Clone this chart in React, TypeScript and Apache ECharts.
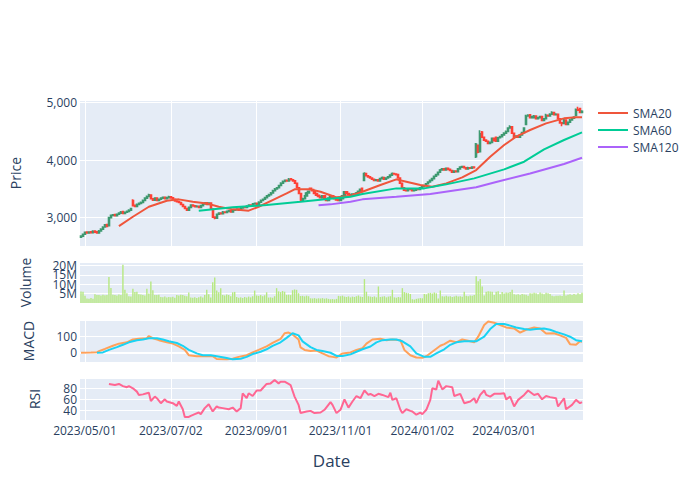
import React, { useEffect, useRef } from 'react';
import * as echarts from 'echarts';

const FONT = '"Open Sans", verdana, arial, sans-serif';
const TEXT = '#2a3f5f';
const PLOT_BG = '#E5ECF6';

// Trading calendar (NYSE days)
const firstDay = '2023-04-27';
const lastDay = '2024-04-26';
const holidays = ['2023-05-29', '2023-06-19', '2023-07-04', '2023-09-04', '2023-11-23', '2023-12-25', '2024-01-01', '2024-01-15', '2024-02-19', '2024-03-29'];
const tickLabels = ['2023/05/01', '2023/07/02', '2023/09/01', '2023/11/01', '2024/01/02', '2024/03/01'];

// Daily candles: [open, high, low, close]
const ohlc: number[][] = [
  [2660, 2695, 2645, 2680], [2680, 2720, 2670, 2710], [2715, 2760, 2705, 2745], [2750, 2760, 2720, 2735], [2735, 2765, 2725, 2750],
  [2755, 2765, 2730, 2740], [2740, 2780, 2730, 2765], [2770, 2775, 2740, 2750], [2755, 2760, 2720, 2735], [2735, 2785, 2725, 2770],
  [2770, 2815, 2760, 2800], [2800, 2850, 2790, 2835], [2840, 2890, 2830, 2875], [2880, 2885, 2835, 2850], [2860, 3015, 2850, 3000],
  [3000, 3055, 2990, 3040], [3040, 3065, 3030, 3050], [3055, 3060, 3020, 3035], [3035, 3075, 3025, 3060], [3060, 3095, 3050, 3080],
  [3080, 3115, 3070, 3100], [3105, 3110, 3060, 3075], [3075, 3110, 3065, 3095], [3095, 3125, 3085, 3110], [3110, 3145, 3100, 3130],
  [3130, 3175, 3120, 3160], [3300, 3320, 3195, 3210], [3215, 3225, 3180, 3195], [3195, 3245, 3185, 3230], [3230, 3265, 3220, 3250],
  [3250, 3280, 3240, 3265], [3265, 3315, 3255, 3300], [3300, 3355, 3290, 3340], [3340, 3385, 3330, 3370], [3370, 3415, 3360, 3400],
  [3395, 3400, 3320, 3330], [3330, 3340, 3290, 3305], [3305, 3355, 3295, 3340], [3340, 3345, 3290, 3300], [3300, 3335, 3290, 3320],
  [3320, 3355, 3310, 3340], [3340, 3370, 3330, 3355], [3355, 3360, 3320, 3330], [3330, 3365, 3320, 3350], [3350, 3380, 3340, 3365],
  [3365, 3375, 3335, 3345], [3345, 3350, 3310, 3320], [3320, 3330, 3280, 3290], [3290, 3300, 3265, 3280], [3280, 3290, 3255, 3265],
  [3265, 3270, 3220, 3230], [3230, 3240, 3185, 3195], [3195, 3205, 3150, 3160], [3160, 3170, 3120, 3130], [3130, 3195, 3120, 3180],
  [3180, 3235, 3170, 3220], [3220, 3230, 3195, 3205], [3205, 3215, 3180, 3190], [3190, 3215, 3180, 3200], [3200, 3210, 3170, 3180],
  [3180, 3225, 3170, 3210], [3210, 3255, 3200, 3240], [3240, 3275, 3230, 3260], [3260, 3270, 3220, 3230], [3230, 3270, 3220, 3255],
  [3255, 3260, 3140, 3150], [3150, 3160, 3000, 3010], [3010, 3020, 2975, 2990], [2990, 3075, 2980, 3060], [3060, 3095, 3050, 3080],
  [3080, 3090, 3060, 3070], [3070, 3115, 3060, 3100], [3100, 3110, 3080, 3090], [3090, 3125, 3080, 3110], [3110, 3135, 3100, 3120],
  [3120, 3130, 3090, 3100], [3100, 3145, 3090, 3130], [3130, 3155, 3120, 3140], [3140, 3165, 3130, 3150], [3150, 3160, 3120, 3130],
  [3130, 3185, 3120, 3170], [3170, 3205, 3160, 3190], [3190, 3200, 3170, 3180], [3180, 3215, 3170, 3200], [3200, 3235, 3190, 3220],
  [3220, 3230, 3200, 3210], [3210, 3255, 3200, 3240], [3240, 3265, 3230, 3250], [3250, 3260, 3220, 3230], [3230, 3285, 3220, 3270],
  [3270, 3315, 3260, 3300], [3300, 3335, 3290, 3320], [3320, 3365, 3310, 3350], [3350, 3395, 3340, 3380], [3380, 3415, 3370, 3400],
  [3400, 3445, 3390, 3430], [3430, 3485, 3420, 3470], [3470, 3515, 3460, 3500], [3500, 3535, 3490, 3520], [3520, 3575, 3510, 3560],
  [3560, 3615, 3550, 3600], [3600, 3645, 3590, 3630], [3630, 3665, 3620, 3650], [3650, 3660, 3625, 3640], [3640, 3690, 3630, 3670],
  [3675, 3685, 3650, 3660], [3660, 3670, 3630, 3640], [3640, 3650, 3590, 3600], [3600, 3610, 3510, 3520], [3520, 3530, 3410, 3420],
  [3420, 3430, 3285, 3300], [3300, 3345, 3290, 3330], [3330, 3395, 3320, 3380], [3380, 3445, 3370, 3430], [3430, 3475, 3420, 3460],
  [3510, 3520, 3480, 3490], [3490, 3500, 3460, 3470], [3470, 3480, 3410, 3420], [3420, 3430, 3380, 3390], [3390, 3400, 3360, 3370],
  [3370, 3380, 3340, 3350], [3350, 3395, 3340, 3380], [3380, 3390, 3320, 3330], [3330, 3340, 3290, 3300], [3300, 3355, 3290, 3340],
  [3340, 3385, 3330, 3370], [3380, 3390, 3345, 3355], [3355, 3365, 3320, 3330], [3330, 3340, 3300, 3310], [3310, 3320, 3290, 3300],
  [3300, 3345, 3290, 3330], [3330, 3395, 3320, 3380], [3380, 3465, 3370, 3450], [3450, 3460, 3410, 3420], [3420, 3430, 3390, 3400],
  [3400, 3410, 3380, 3390], [3390, 3425, 3380, 3410], [3410, 3420, 3390, 3400], [3400, 3445, 3390, 3430], [3430, 3475, 3420, 3460],
  [3460, 3510, 3450, 3495], [3510, 3515, 3460, 3470], [3650, 3790, 3640, 3770], [3770, 3780, 3720, 3730], [3730, 3740, 3700, 3710],
  [3710, 3720, 3680, 3690], [3690, 3700, 3660, 3670], [3670, 3680, 3640, 3650], [3650, 3675, 3640, 3660], [3660, 3670, 3630, 3640],
  [3640, 3695, 3630, 3680], [3680, 3715, 3670, 3700], [3700, 3710, 3660, 3670], [3670, 3705, 3660, 3690], [3690, 3725, 3680, 3710],
  [3710, 3755, 3700, 3740], [3740, 3785, 3730, 3770], [3770, 3780, 3750, 3760], [3760, 3770, 3740, 3750], [3750, 3760, 3680, 3690],
  [3690, 3700, 3590, 3600], [3600, 3610, 3510, 3520], [3520, 3530, 3470, 3480], [3480, 3490, 3460, 3470], [3470, 3515, 3460, 3500],
  [3500, 3510, 3480, 3490], [3490, 3500, 3460, 3470], [3470, 3495, 3460, 3480], [3480, 3515, 3470, 3500], [3500, 3510, 3480, 3490],
  [3490, 3535, 3480, 3520], [3520, 3555, 3510, 3540], [3540, 3575, 3530, 3560], [3560, 3605, 3550, 3590], [3590, 3635, 3580, 3620],
  [3620, 3665, 3610, 3650], [3650, 3695, 3640, 3680], [3680, 3735, 3670, 3720], [3720, 3765, 3710, 3750], [3750, 3805, 3740, 3790],
  [3790, 3845, 3780, 3830], [3830, 3865, 3820, 3850], [3850, 3860, 3820, 3830], [3830, 3875, 3820, 3860], [3860, 3870, 3830, 3840],
  [3840, 3850, 3810, 3820], [3820, 3830, 3780, 3790], [3790, 3825, 3780, 3810], [3810, 3820, 3790, 3800], [3800, 3865, 3790, 3850],
  [3850, 3895, 3840, 3880], [3880, 3905, 3870, 3890], [3890, 3900, 3860, 3870], [3870, 3880, 3840, 3850], [3850, 3885, 3840, 3870],
  [3870, 3880, 3850, 3860], [3860, 3895, 3850, 3880], [3880, 3890, 3860, 3870], [4060, 4300, 4040, 4280], [4260, 4270, 4120, 4140],
  [4150, 4520, 4140, 4460], [4490, 4510, 4390, 4400], [4400, 4410, 4340, 4350], [4350, 4360, 4320, 4330], [4330, 4340, 4280, 4290],
  [4290, 4325, 4280, 4310], [4310, 4395, 4300, 4380], [4380, 4390, 4330, 4340], [4400, 4410, 4320, 4330], [4330, 4405, 4320, 4390],
  [4390, 4425, 4380, 4410], [4410, 4455, 4400, 4440], [4440, 4485, 4430, 4470], [4470, 4515, 4460, 4500], [4500, 4575, 4490, 4560],
  [4560, 4610, 4550, 4580], [4580, 4590, 4460, 4470], [4470, 4480, 4390, 4400], [4400, 4435, 4390, 4420], [4420, 4430, 4390, 4400],
  [4400, 4455, 4390, 4440], [4440, 4495, 4430, 4480], [4480, 4575, 4470, 4560], [4620, 4790, 4610, 4770], [4770, 4800, 4760, 4780],
  [4790, 4800, 4730, 4740], [4740, 4775, 4730, 4760], [4740, 4785, 4730, 4770], [4770, 4780, 4710, 4720], [4720, 4755, 4710, 4740],
  [4740, 4775, 4730, 4760], [4760, 4770, 4680, 4690], [4690, 4735, 4680, 4720], [4720, 4810, 4710, 4780], [4780, 4790, 4760, 4770],
  [4770, 4815, 4760, 4800], [4800, 4850, 4790, 4830], [4830, 4840, 4780, 4790], [4790, 4815, 4780, 4800], [4800, 4810, 4710, 4720],
  [4720, 4730, 4640, 4650], [4650, 4660, 4590, 4640], [4640, 4715, 4630, 4700], [4700, 4710, 4610, 4620], [4620, 4675, 4610, 4660],
  [4660, 4715, 4650, 4700], [4700, 4745, 4690, 4730], [4730, 4765, 4720, 4750], [4780, 4900, 4770, 4880], [4880, 4930, 4860, 4870],
  [4900, 4910, 4820, 4830], [4830, 4870, 4820, 4850],
];

// Daily volume, millions
const volumeM = [
  6.1, 6.0, 3.8, 2.4, 2.2, 2.6, 2.3, 4.7, 4.2, 4.3,
  4.0, 4.4, 4.1, 4.2, 13.8, 8.0, 4.4, 4.2, 4.0, 4.5,
  4.3, 20.4, 7.0, 5.2, 3.6, 3.4, 7.6, 5.9, 6.0, 4.7,
  4.5, 4.3, 4.0, 7.6, 5.0, 11.4, 6.8, 4.3, 4.2, 4.4,
  3.2, 3.0, 3.4, 2.9, 3.2, 3.0, 3.3, 2.8, 4.3, 4.0,
  4.4, 4.2, 3.8, 3.6, 5.6, 2.9, 2.8, 3.1, 2.7, 3.0,
  3.4, 2.9, 4.3, 7.0, 4.7, 2.9, 11.0, 13.5, 6.6, 5.7,
  7.9, 4.3, 4.0, 4.5, 4.2, 3.6, 5.7, 5.9, 3.2, 2.8,
  3.0, 2.7, 3.2, 2.9, 3.4, 3.0, 3.6, 6.6, 4.0, 3.8,
  4.2, 3.6, 4.1, 5.7, 2.9, 3.0, 2.8, 3.6, 7.9, 6.2,
  5.8, 6.4, 6.0, 4.3, 4.4, 4.2, 6.8, 7.2, 7.0, 5.2,
  3.7, 3.8, 3.5, 3.9, 3.6, 2.5, 2.4, 2.6, 2.3, 2.5,
  2.4, 2.6, 2.3, 2.5, 2.2, 2.0, 2.1, 1.9, 2.2, 3.8,
  3.6, 3.9, 3.4, 3.2, 3.5, 3.0, 3.4, 3.2, 3.6, 4.0,
  3.4, 3.2, 12.7, 6.0, 3.6, 3.4, 3.2, 3.5, 3.0, 8.8,
  3.2, 3.4, 3.6, 3.0, 3.4, 3.6, 7.0, 3.0, 2.8, 3.2,
  3.0, 7.9, 5.8, 5.4, 5.2, 4.8, 2.0, 1.8, 2.2, 2.4,
  2.6, 2.5, 4.8, 4.6, 5.2, 5.4, 5.0, 5.6, 5.2, 2.4,
  6.6, 3.6, 3.4, 3.8, 3.4, 3.6, 3.2, 3.5, 3.8, 3.4,
  3.6, 3.3, 6.0, 3.8, 3.6, 4.0, 3.8, 4.2, 14.2, 11.5,
  12.7, 8.8, 4.0, 6.0, 6.2, 6.1, 6.0, 4.2, 6.0, 6.2,
  4.6, 5.8, 5.0, 5.6, 5.4, 5.8, 7.0, 4.6, 4.4, 4.6,
  4.2, 4.8, 4.5, 4.4, 3.9, 5.2, 5.0, 5.4, 5.2, 4.6,
  5.6, 5.0, 4.6, 5.4, 5.2, 4.8, 3.8, 3.6, 3.9, 3.8,
  4.0, 3.7, 6.6, 4.0, 4.4, 4.6, 4.2, 4.8, 4.4, 5.2,
  4.6, 5.4,
];

// Indicator readings: [trading-day number, value]
const sma20 = [[19, 2855], [26, 3017], [34, 3191], [43, 3296], [49, 3319], [56, 3278], [63, 3249], [69, 3191], [76, 3145], [84, 3122], [89, 3191], [96, 3307], [103, 3423], [107, 3493], [115, 3493], [120, 3452], [126, 3377], [128, 3354], [135, 3377], [141, 3452], [150, 3568], [158, 3667], [163, 3626], [170, 3568], [176, 3539], [183, 3597], [191, 3701], [198, 3829], [205, 4061], [212, 4264], [218, 4409], [225, 4525], [233, 4641], [242, 4728], [248, 4745], [251, 4745]];
const sma60 = [[59, 3122], [76, 3180], [93, 3220], [110, 3278], [126, 3336], [135, 3365], [141, 3412], [158, 3510], [172, 3510], [183, 3580], [197, 3684], [212, 3841], [222, 3974], [232, 4188], [242, 4351], [251, 4484]];
const sma120 = [[119, 3215], [125, 3232], [135, 3278], [141, 3319], [158, 3365], [175, 3412], [198, 3530], [208, 3620], [225, 3770], [242, 3935], [251, 4043]];
const macd = [[0, 0], [5, 1], [8, 3], [9, 10], [12, 23], [16, 42], [19, 55], [23, 63], [26, 80], [29, 84], [33, 88], [34, 101], [36, 88], [39, 76], [43, 63], [46, 55], [49, 38], [52, 17], [54, -15], [58, -21], [63, -19], [66, -21], [68, -38], [73, -40], [76, -36], [79, -25], [83, -15], [86, 2], [89, 17], [93, 38], [96, 59], [100, 84], [102, 118], [104, 122], [106, 111], [109, 80], [110, 32], [112, 17], [115, 10], [118, 13], [121, -4], [124, -21], [126, -25], [128, -29], [131, -4], [135, 2], [138, 17], [141, 27], [143, 55], [146, 80], [150, 84], [153, 76], [156, 80], [160, 76], [162, 17], [165, -15], [168, -29], [171, -31], [173, -21], [176, 6], [180, 42], [182, 52], [185, 73], [188, 63], [191, 80], [195, 69], [197, 63], [199, 97], [202, 168], [204, 189], [207, 181], [210, 168], [213, 153], [217, 147], [220, 122], [223, 139], [227, 153], [230, 147], [233, 116], [237, 118], [240, 105], [243, 90], [245, 52], [248, 48], [250, 69], [251, 67]];
const signal = [[8, 0], [11, 2], [14, 17], [18, 34], [21, 48], [24, 63], [28, 76], [31, 80], [34, 88], [38, 88], [41, 80], [44, 69], [48, 59], [51, 42], [54, 17], [58, -4], [61, -15], [65, -15], [68, -21], [73, -32], [76, -40], [80, -36], [83, -25], [86, -8], [90, 6], [93, 21], [96, 42], [100, 63], [103, 90], [106, 118], [109, 105], [111, 69], [115, 34], [118, 17], [121, 10], [125, 0], [128, -19], [131, -20], [135, -10], [138, 6], [141, 21], [145, 38], [148, 63], [151, 76], [155, 80], [158, 80], [161, 69], [165, 38], [168, -4], [172, -25], [175, -25], [178, -4], [182, 21], [185, 48], [188, 63], [192, 69], [195, 69], [198, 69], [202, 97], [205, 143], [208, 174], [212, 174], [215, 164], [218, 153], [222, 143], [225, 139], [228, 143], [232, 147], [235, 139], [238, 126], [242, 111], [245, 97], [248, 76], [251, 69]];
const rsi = [[14, 88], [17, 86], [19, 88], [21, 84], [23, 82], [24, 84], [26, 80], [28, 74], [29, 68], [31, 69], [33, 71], [34, 72], [35, 57], [37, 65], [38, 62], [40, 53], [42, 60], [43, 56], [46, 53], [48, 48], [49, 56], [51, 42], [52, 28], [54, 28], [55, 30], [57, 33], [59, 36], [60, 33], [62, 44], [64, 51], [66, 38], [68, 47], [69, 45], [71, 44], [74, 42], [76, 45], [78, 38], [80, 44], [81, 71], [83, 62], [84, 71], [86, 66], [88, 76], [90, 76], [93, 88], [95, 89], [97, 95], [99, 89], [100, 92], [102, 92], [104, 88], [105, 86], [107, 65], [109, 50], [110, 35], [113, 38], [115, 39], [117, 35], [120, 36], [122, 41], [125, 55], [126, 50], [128, 35], [130, 41], [132, 60], [134, 45], [136, 56], [138, 66], [140, 62], [142, 76], [144, 68], [145, 70], [147, 66], [149, 70], [151, 68], [154, 64], [155, 72], [156, 59], [158, 62], [160, 41], [161, 35], [163, 42], [165, 39], [166, 38], [168, 32], [170, 36], [171, 33], [173, 41], [175, 59], [176, 80], [178, 78], [179, 94], [181, 78], [183, 84], [186, 82], [187, 66], [190, 70], [192, 53], [195, 56], [197, 62], [198, 53], [200, 68], [202, 76], [203, 68], [205, 65], [207, 70], [210, 70], [212, 71], [213, 60], [215, 65], [217, 47], [219, 59], [222, 68], [224, 76], [227, 68], [229, 70], [231, 60], [233, 66], [235, 64], [238, 62], [239, 47], [242, 62], [243, 42], [246, 50], [248, 59], [250, 53], [251, 55]];

function buildDates(): string[] {
  const out: string[] = [];
  const d = new Date(firstDay + 'T00:00:00Z');
  const end = new Date(lastDay + 'T00:00:00Z');
  while (d.getTime() <= end.getTime()) {
    const s = d.toISOString().slice(0, 10);
    const wd = d.getUTCDay();
    if (wd !== 0 && wd !== 6 && !holidays.includes(s)) out.push(s);
    d.setUTCDate(d.getUTCDate() + 1);
  }
  return out;
}

function buildOption() {
  const dates = buildDates();
  const tickMap = new Map<number, string>();
  tickLabels.forEach((l) => {
    const iso = l.replace(/\//g, '-');
    const idx = dates.findIndex((x) => x >= iso);
    if (idx >= 0) tickMap.set(idx, l);
  });

  const labelStyle = { color: TEXT, fontSize: 12, fontFamily: FONT };
  const nameStyle = { color: TEXT, fontSize: 14, fontFamily: FONT };
  const gridDefs = [
    { top: 100, height: 146 },
    { top: 262, height: 41 },
    { top: 320, height: 42 },
    { top: 378, height: 42 },
  ];
  const grid = gridDefs.map((g) => ({
    left: 80, width: 503, top: g.top, height: g.height,
    show: true, backgroundColor: PLOT_BG, borderWidth: 0,
  }));

  const xAxis = [0, 1, 2, 3].map((g) => ({
    type: 'category',
    gridIndex: g,
    data: dates,
    boundaryGap: true,
    axisLine: { show: false },
    axisTick: { show: false },
    axisLabel: {
      show: g === 3,
      interval: (i: number) => tickMap.has(i),
      formatter: (_v: string, i: number) => tickMap.get(i) ?? '',
      margin: 4,
      ...labelStyle,
    },
    splitLine: {
      show: g !== 1,
      interval: (i: number) => tickMap.has(i),
      alignWithLabel: true,
      lineStyle: { color: '#ffffff', width: 1 },
    },
    name: g === 3 ? 'Date' : '',
    nameLocation: 'middle',
    nameGap: 32,
    nameTextStyle: { color: TEXT, fontSize: 17, fontFamily: FONT },
  }));

  const ySplit = { show: true, lineStyle: { color: '#ffffff', width: 1 } };
  const yBase = {
    type: 'value',
    axisLine: { show: false },
    axisTick: { show: false },
    splitLine: ySplit,
    nameLocation: 'middle',
    nameTextStyle: nameStyle,
  };
  const yAxis = [
    {
      ...yBase, gridIndex: 0, min: 2508, max: 5047, splitNumber: 2,
      name: 'Price', nameGap: 58,
      axisLabel: { ...labelStyle, margin: 3, showMinLabel: false, showMaxLabel: false, formatter: (v: number) => v.toLocaleString('en-US') },
    },
    {
      ...yBase, gridIndex: 1, min: 0, max: 21.8e6, interval: 5e6,
      name: 'Volume', nameGap: 48,
      axisLabel: { ...labelStyle, margin: 3, showMaxLabel: false, formatter: (v: number) => (v === 0 ? '0' : `${Math.round(v / 1e6)}M`) },
    },
    {
      ...yBase, gridIndex: 2, min: -56, max: 198, splitNumber: 2,
      name: 'MACD', nameGap: 45,
      axisLabel: { ...labelStyle, margin: 3, showMinLabel: false, showMaxLabel: false },
    },
    {
      ...yBase, gridIndex: 3, min: 22.4, max: 98.8, splitNumber: 4,
      name: 'RSI', nameGap: 39,
      axisLabel: { ...labelStyle, margin: 3, showMinLabel: false, showMaxLabel: false },
    },
  ];

  const lineSeries = (name: string, data: number[][], color: string, axis: number) => ({
    name,
    type: 'line',
    xAxisIndex: axis,
    yAxisIndex: axis,
    data,
    symbol: 'none',
    showSymbol: false,
    smooth: false,
    lineStyle: { color, width: 2 },
    itemStyle: { color },
    z: 3,
  });

  return {
    animation: false,
    backgroundColor: '#ffffff',
    textStyle: { fontFamily: FONT },
    grid,
    xAxis,
    yAxis,
    legend: {
      data: ['SMA20', 'SMA60', 'SMA120'],
      orient: 'vertical',
      left: 598,
      top: 107,
      padding: 0,
      icon: 'path://M0,0L30,0L30,2L0,2Z',
      symbolKeepAspect: true,
      itemWidth: 30,
      itemHeight: 14,
      itemGap: 5,
      textStyle: { color: TEXT, fontSize: 12, fontFamily: FONT },
    },
    series: [
      {
        name: 'Candles',
        type: 'candlestick',
        xAxisIndex: 0,
        yAxisIndex: 0,
        data: ohlc.map(([o, h, l, c]) => [o, c, l, h]),
        barWidth: 1.6,
        itemStyle: {
          color: '#3D9970', color0: '#FF4136',
          borderColor: '#3D9970', borderColor0: '#FF4136',
          borderWidth: 1.6,
        },
        z: 2,
      },
      lineSeries('SMA20', sma20, '#EF553B', 0),
      lineSeries('SMA60', sma60, '#00CC96', 0),
      lineSeries('SMA120', sma120, '#AB63FA', 0),
      {
        name: 'Volume',
        type: 'bar',
        xAxisIndex: 1,
        yAxisIndex: 1,
        data: volumeM.map((v) => v * 1e6),
        barWidth: '70%',
        itemStyle: { color: '#B6E880' },
      },
      {
        ...lineSeries('MACD', macd, '#FFA15A', 2),
        markLine: {
          silent: true,
          symbol: 'none',
          label: { show: false },
          lineStyle: { color: '#ffffff', width: 2, type: 'solid' },
          data: [{ yAxis: 0 }],
          z: 1,
        },
      },
      lineSeries('Signal', signal, '#19D3F3', 2),
      lineSeries('RSI', rsi, '#FF6692', 3),
    ],
  };
}

export default function App() {
  const ref = useRef<HTMLDivElement>(null);
  useEffect(() => {
    document.body.style.margin = '0';
    const chart = echarts.init(ref.current as HTMLDivElement, null, { renderer: 'svg' });
    chart.setOption(buildOption() as any);
    return () => chart.dispose();
  }, []);
  return <div ref={ref} style={{ width: 700, height: 500 }} />;
}
